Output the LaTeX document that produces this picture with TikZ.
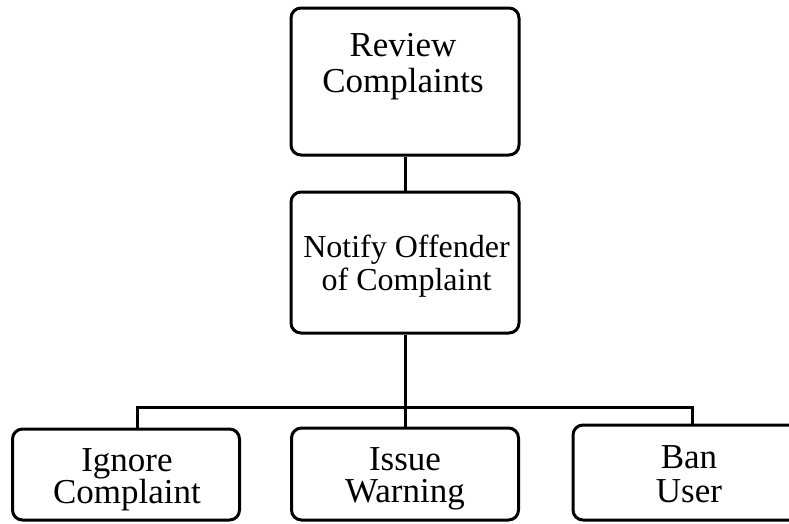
\documentclass[tikz,border=0pt]{standalone}
\usepackage{fontspec}
\setmainfont{Liberation Serif}
\usetikzlibrary{calc}

\begin{document}
\begin{tikzpicture}[x=1pt,y=-1pt,
  box/.style={draw, line width=3pt, rounded corners=10pt, minimum width=228pt},
  txt/.style={align=center, font=\fontsize{35}{36}\selectfont, inner sep=0pt,
    text height=23pt, text depth=8pt},
  small/.style={font=\fontsize{35}{32}\selectfont},
  link/.style={line width=3pt}]
\useasboundingbox (0,0) rectangle (789,523);
\clip (0,0) rectangle (789,523);
% Box "Review Complaints"
\node [box, minimum height=147pt] (review) at (405,81.5) {};
\node [txt] (reviewtext) at (403,84.5) {Review\\Complaints};
% Box "Notify Offender of Complaint"
\node [box, minimum height=141pt] (notify) at (405,262.5) {};
\node [txt, font=\fontsize{32}{33}\selectfont] (notifytext) at (406.5,282.5) {Notify Offender\\of Complaint};
% Bottom row
\node [box, minimum width=227pt, minimum height=91pt] (ignore) at (126,474.5) {};
\node [txt, small] (ignoretext) at (127,495.5) {Ignore\\Complaint};
\node [box, minimum width=227pt, minimum height=92pt] (issue) at (405,474) {};
\node [txt, small] (issuetext) at (405,494.5) {Issue\\Warning};
\node [box, minimum width=234pt, minimum height=95pt] (ban) at (690,472.5) {};
\node [txt, font=\fontsize{35}{34}\selectfont] (bantext) at (689,494.5) {Ban\\User};
% Review --> Notify
\draw [link] (review) -- (notify);
% Notify --> Issue
\draw [link] (notify) -- (issue);
% Bar to Ignore and Ban
\coordinate (bar) at (405,407);
\draw [link] ([xshift=11pt]ignore.north) |- (bar) -| ([xshift=2pt]ban.north);
\end{tikzpicture}
\end{document}
